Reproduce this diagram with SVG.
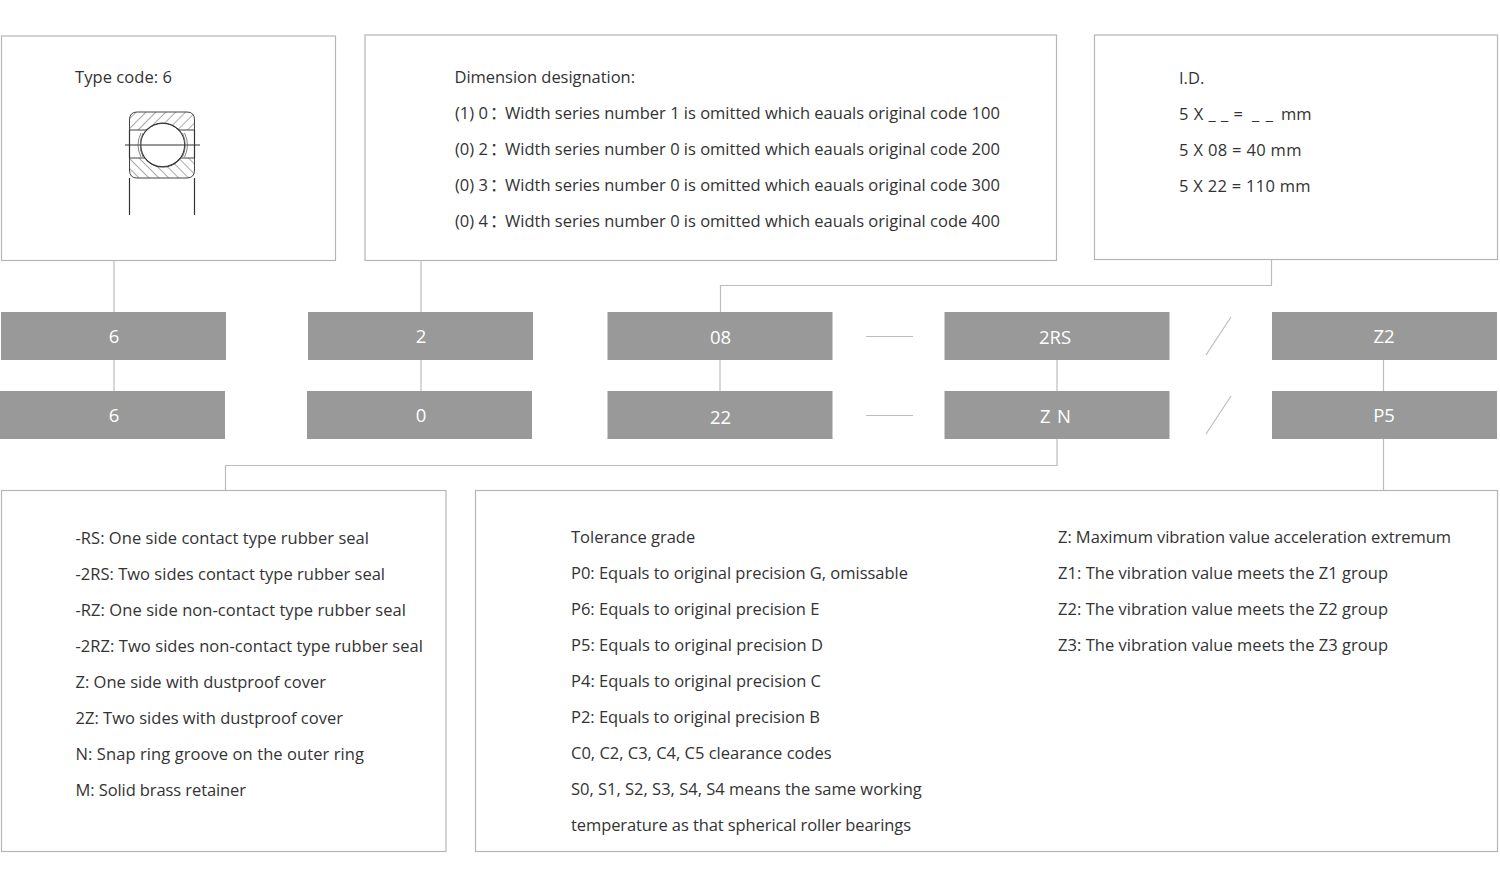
<svg xmlns="http://www.w3.org/2000/svg" width="1500" height="883" viewBox="0 0 1500 883">
<style>
text{font-family:"Open Sans","Noto Sans CJK SC","Noto Sans",sans-serif;font-size:16.5px;fill:#333}
.box{fill:#fff;stroke:#b5b5b5;stroke-width:1.2}
.bar{fill:#999}
.bar-t{fill:#fff;font-size:18.500px;text-anchor:middle}
.con{fill:none;stroke:#bdbdbd;stroke-width:1.2}
.dr{fill:none;stroke:#333;stroke-width:1.2}
.thin{fill:none;stroke:#666;stroke-width:.8}
</style>
<defs>
<pattern id="h1" width="7" height="7" patternUnits="userSpaceOnUse" patternTransform="rotate(45)"><line x1="0" y1="0" x2="0" y2="7" stroke="#555" stroke-width="1"/></pattern>
<pattern id="h2" width="7" height="7" patternUnits="userSpaceOnUse" patternTransform="rotate(-45)"><line x1="0" y1="0" x2="0" y2="7" stroke="#555" stroke-width="1"/></pattern>
</defs>
<g id="connectors" class="con">
<path d="M114 261V312M114 360V391M421 261V312M421 360V391M720 360V391M1057 360V391M1383.500 360V391M1383.500 439V490"/>
<path d="M1271.500 260V285.500H720.500V312"/>
<path d="M1057 439V465.500H225.500V490"/>
<path d="M866 336.500H913M866 415.500H913M1206 355L1231 317M1206 434L1231 396"/>
</g>
<g id="type-box"><rect class="box" x="1.500" y="36" width="334" height="224.500"/>
<text x="75" y="83" textLength="97">Type code: 6</text>
<g id="bearing">
<path d="M129.500 130V120Q129.500 112 137 112H187Q194.500 112 194.500 120V130H178.500A22 22 0 0 0 147 130Z" fill="url(#h1)" stroke="#444" stroke-width="1"/>
<path d="M129.500 158V170Q129.500 178 137 178H187Q194.500 178 194.500 170V158H180A22 22 0 0 1 145 158Z" fill="url(#h2)" stroke="#444" stroke-width="1"/>
<circle class="dr" cx="162.700" cy="145" r="22"/>
<path class="dr" d="M129.500 130V158M194.500 130V158M125 145H200M129.500 178V215M194.500 178V215"/>
<path class="thin" d="M141 133Q135 145 141 157M184.500 133Q190.500 145 184.500 157M143 133Q137.500 145 143 157M182.500 133Q188 145 182.500 157"/>
</g></g>
<g id="dimension-box"><rect class="box" x="365" y="35" width="691.500" height="225.500"/>
<text x="454.500" y="83" textLength="180.500">Dimension designation:</text>
<text x="455" y="119">(1) 0<tspan dx="2">：</tspan></text><text x="505" y="119">Width series number 1 is omitted which eauals original code 100</text>
<text x="455" y="155">(0) 2<tspan dx="2">：</tspan></text><text x="505" y="155">Width series number 0 is omitted which eauals original code 200</text>
<text x="455" y="191">(0) 3<tspan dx="2">：</tspan></text><text x="505" y="191">Width series number 0 is omitted which eauals original code 300</text>
<text x="455" y="227">(0) 4<tspan dx="2">：</tspan></text><text x="505" y="227">Width series number 0 is omitted which eauals original code 400</text>
</g>
<g id="id-box"><rect class="box" x="1094.500" y="35" width="403" height="224.500"/>
<text x="1179" y="84">I.D.</text>
<text x="1179" y="120" textLength="64">5 X _ _ =</text><text x="1252" y="120" textLength="21">_ _</text><text x="1281" y="120">mm</text>
<text x="1179" y="156" textLength="122.500">5 X 08 = 40 mm</text>
<text x="1179" y="192" textLength="131.500">5 X 22 = 110 mm</text>
</g>
<g id="n6a"><rect class="bar" x="1" y="312" width="225" height="48"/><text class="bar-t" x="114" y="342.500">6</text></g>
<g id="n2"><rect class="bar" x="308" y="312" width="225" height="48"/><text class="bar-t" x="421" y="343">2</text></g>
<g id="n08"><rect class="bar" x="607.500" y="312" width="225" height="48"/><text class="bar-t" x="720.500" y="343.500">08</text></g>
<g id="n2rs"><rect class="bar" x="944.500" y="312" width="225" height="48"/><text class="bar-t" x="1055" y="343.500">2RS</text></g>
<g id="nz2"><rect class="bar" x="1272" y="312" width="225" height="48"/><text class="bar-t" x="1384" y="342.500">Z2</text></g>
<g id="n6b"><rect class="bar" x="0" y="391" width="225" height="48"/><text class="bar-t" x="114" y="421.500">6</text></g>
<g id="n0"><rect class="bar" x="307" y="391" width="225" height="48"/><text class="bar-t" x="421" y="422">0</text></g>
<g id="n22"><rect class="bar" x="607.500" y="391" width="225" height="48"/><text class="bar-t" x="720.500" y="423.500">22</text></g>
<g id="nzn"><rect class="bar" x="944.500" y="391" width="225" height="48"/><text class="bar-t" x="1055.500" y="423" textLength="31">Z N</text></g>
<g id="np5"><rect class="bar" x="1272" y="391" width="225" height="48"/><text class="bar-t" x="1384" y="421.500">P5</text></g>
<g id="seal-box"><rect class="box" x="1.500" y="490.500" width="444.500" height="361"/>
<text x="75.500" y="544" textLength="293.500">-RS: One side contact type rubber seal</text>
<text x="75.500" y="580" textLength="309.500">-2RS: Two sides contact type rubber seal</text>
<text x="75.500" y="616" textLength="330.500">-RZ: One side non-contact type rubber seal</text>
<text x="75.500" y="652" textLength="347.500">-2RZ: Two sides non-contact type rubber seal</text>
<text x="75.500" y="688" textLength="250.500">Z: One side with dustproof cover</text>
<text x="75.500" y="724" textLength="267.500">2Z: Two sides with dustproof cover</text>
<text x="75.500" y="760" textLength="288.500">N: Snap ring groove on the outer ring</text>
<text x="75.500" y="796" textLength="170.500">M: Solid brass retainer</text>
</g>
<g id="tolerance-box"><rect class="box" x="475.500" y="490.500" width="1022" height="361"/>
<text x="571" y="543">Tolerance grade</text>
<text x="571" y="579" textLength="337">P0: Equals to original precision G, omissable</text>
<text x="571" y="615">P6: Equals to original precision E</text>
<text x="571" y="651" textLength="252">P5: Equals to original precision D</text>
<text x="571" y="687" textLength="250">P4: Equals to original precision C</text>
<text x="571" y="723" textLength="249">P2: Equals to original precision B</text>
<text x="571" y="759">C0, C2, C3, C4, C5 clearance codes</text>
<text x="571" y="795">S0, S1, S2, S3, S4, S4 means the same working</text>
<text x="571" y="831" textLength="340">temperature as that spherical roller bearings</text>
<text x="1058" y="543" textLength="393">Z: Maximum vibration value acceleration extremum</text>
<text x="1058" y="579" textLength="330">Z1: The vibration value meets the Z1 group</text>
<text x="1058" y="615" textLength="330">Z2: The vibration value meets the Z2 group</text>
<text x="1058" y="651" textLength="330">Z3: The vibration value meets the Z3 group</text>
</g>
</svg>
